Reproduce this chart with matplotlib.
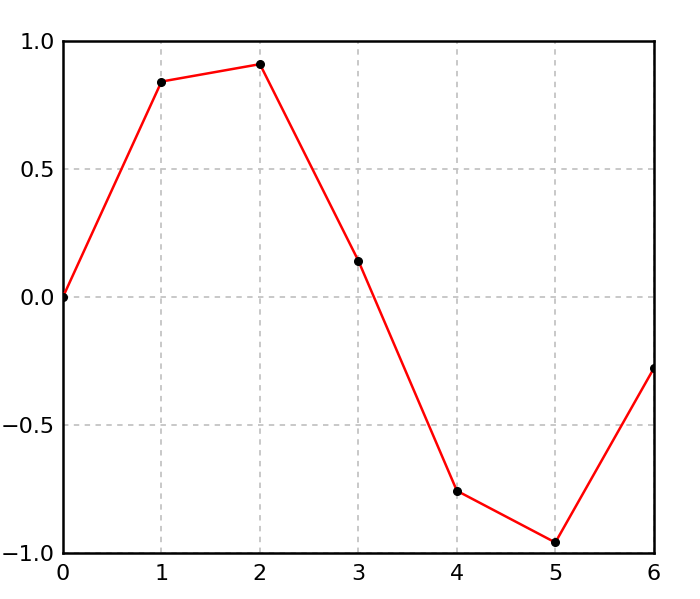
import matplotlib
matplotlib.use("Agg")
import matplotlib.pyplot as plt

xs = [0, 1, 2, 3, 4, 5, 6]
ys = [0.0, 0.841, 0.909, 0.141, -0.757, -0.959, -0.279]
x_ticks = [0, 1, 2, 3, 4, 5, 6]
y_ticks = [-1.0, -0.5, 0.0, 0.5, 1.0]

fig = plt.figure(figsize=(7, 5.99), dpi=100)
ax = fig.add_axes([0.09, 0.0768, 0.844, 0.855])

ax.plot(xs, ys, color='red', lw=1.8, zorder=3)
ax.plot(xs, ys, 'o', color='black', ms=5.5, zorder=4)

ax.set_xlim(0, 6)
ax.set_ylim(-1, 1)
ax.set_xticks(x_ticks)
ax.set_yticks(y_ticks)
ax.set_xticklabels([str(t) for t in x_ticks])
ax.set_yticklabels(['\u22121.0', '\u22120.5', '0.0', '0.5', '1.0'])
ax.tick_params(length=0, labelsize=16)
ax.tick_params(axis='x', pad=8)
ax.tick_params(axis='y', pad=6)
ax.grid(True, ls=(0, (3, 3)), color='#c4c4c4', lw=1.3)
for s in ax.spines.values():
    s.set_linewidth(1.8)
    s.set_color('black')

plt.savefig('out.png')
